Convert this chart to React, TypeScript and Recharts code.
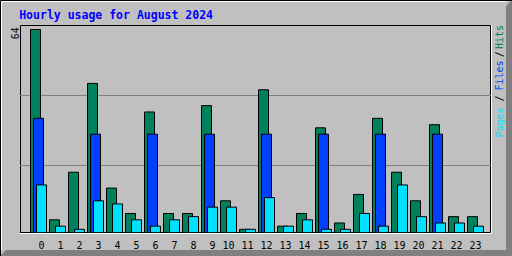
import React from 'react';
import { BarChart, Bar, XAxis, YAxis, CartesianGrid } from 'recharts';

const hours = ['0', '1', '2', '3', '4', '5', '6', '7', '8', '9', '10', '11',
  '12', '13', '14', '15', '16', '17', '18', '19', '20', '21', '22', '23'];
const hits = [64, 4, 19, 47, 14, 6, 38, 6, 6, 40, 10, 1, 45, 2, 6, 33, 3, 12, 36, 19, 10, 34, 5, 5];
const files = [36, 0, 0, 31, 0, 0, 31, 0, 0, 31, 0, 0, 31, 0, 0, 31, 0, 0, 31, 0, 0, 31, 0, 0];
const pages = [15, 2, 1, 10, 9, 4, 2, 4, 5, 8, 8, 1, 11, 2, 4, 1, 1, 6, 2, 15, 5, 3, 3, 2];
const maxHits = 64;

const data = hours.map((h, i) => ({ hour: h, hits: hits[i], files: files[i], pages: pages[i] }));

const HIT_COLOR = '#00805C';
const FILE_COLOR = '#0040FF';
const PAGE_COLOR = '#00E0FF';
const MONO = '"DejaVu Sans Mono", monospace';

// frame of the plot (webalizer style)
const FRAME = { left: 20, top: 25, right: 491, bottom: 232.5 };
const AXIS_H = 20;
// 203px for the max value
const yMax = ((FRAME.bottom - FRAME.top) / 203) * maxHits;
const gridRows = [95.5, 165.5];

function HourTick({ x, y, payload }: any) {
  return (
    <text x={x + 6.5} y={y + 16.5} textAnchor="end" fontFamily={MONO} fontSize={10} fill="#000">
      {payload.value}
    </text>
  );
}

function Chrome() {
  const rot = (x: number, y: number) => `translate(${x},${y}) rotate(-90)`;
  return (
    <svg width={512} height={256} style={{ position: 'absolute', left: 0, top: 0 }}>
      <rect x={0} y={0} width={512} height={256} fill="#C0C0C0" />
      <polygon points="512,0 512,256 0,256 6,250 506,250 506,6" fill="#808080" />
      <path d="M0.5,256 V0.5 H512" stroke="#000" fill="none" />
      <path d="M1.5,250 V1.5 H506" stroke="#fff" fill="none" />
      {/* plot frame */}
      <path d="M20.5,233 V25.5 H491" stroke="#000" fill="none" />
      <path d="M20,232.5 H490.5 V25" stroke="#000" fill="none" />
      <path d="M20,233.5 H491.5 V25" stroke="#fff" fill="none" />
      <text x={19.2} y={19} fontFamily={MONO} fontWeight="bold" fontSize={11.5} fill="#0000FF">
        Hourly usage for August 2024
      </text>
      <text transform={rot(19, 39.2)} fontFamily={MONO} fontSize={10} fill="#000">
        {maxHits}
      </text>
      <g fontFamily={MONO} fontSize={10}>
        <text transform={rot(503, 137.5)} fill={PAGE_COLOR}>Pages</text>
        <text transform={rot(503, 101.5)} fill="#000">/</text>
        <text transform={rot(503, 90.5)} fill={FILE_COLOR}>Files</text>
        <text transform={rot(503, 57.2)} fill="#000">/</text>
        <text transform={rot(503, 49)} fill={HIT_COLOR}>Hits</text>
      </g>
    </svg>
  );
}

export default function App() {
  return (
    <div style={{ position: 'relative', width: 512, height: 256 }}>
      <style>{'body{margin:0}'}</style>
      <Chrome />
      <div style={{ position: 'absolute', left: 0, top: 0 }}>
        <BarChart
          width={512}
          height={256}
          data={data}
          margin={{ top: FRAME.top, right: 512 - FRAME.right, bottom: 256 - FRAME.bottom - AXIS_H, left: FRAME.left }}
          barGap={-7}
        >
          <CartesianGrid vertical={false} horizontalPoints={gridRows} stroke="#808080" />
          <XAxis
            dataKey="hour"
            height={AXIS_H}
            padding={{ left: 8.5, right: 6.5 }}
            axisLine={false}
            tickLine={false}
            tickSize={0}
            tickMargin={0}
            interval={0}
            tick={<HourTick />}
          />
          <YAxis hide domain={[0, yMax]} allowDataOverflow />
          <Bar dataKey="hits" fill={HIT_COLOR} stroke="#000" barSize={10} isAnimationActive={false} />
          <Bar dataKey="files" fill={FILE_COLOR} stroke="#000" barSize={10} isAnimationActive={false} />
          <Bar dataKey="pages" fill={PAGE_COLOR} stroke="#000" barSize={10} isAnimationActive={false} />
        </BarChart>
      </div>
    </div>
  );
}
